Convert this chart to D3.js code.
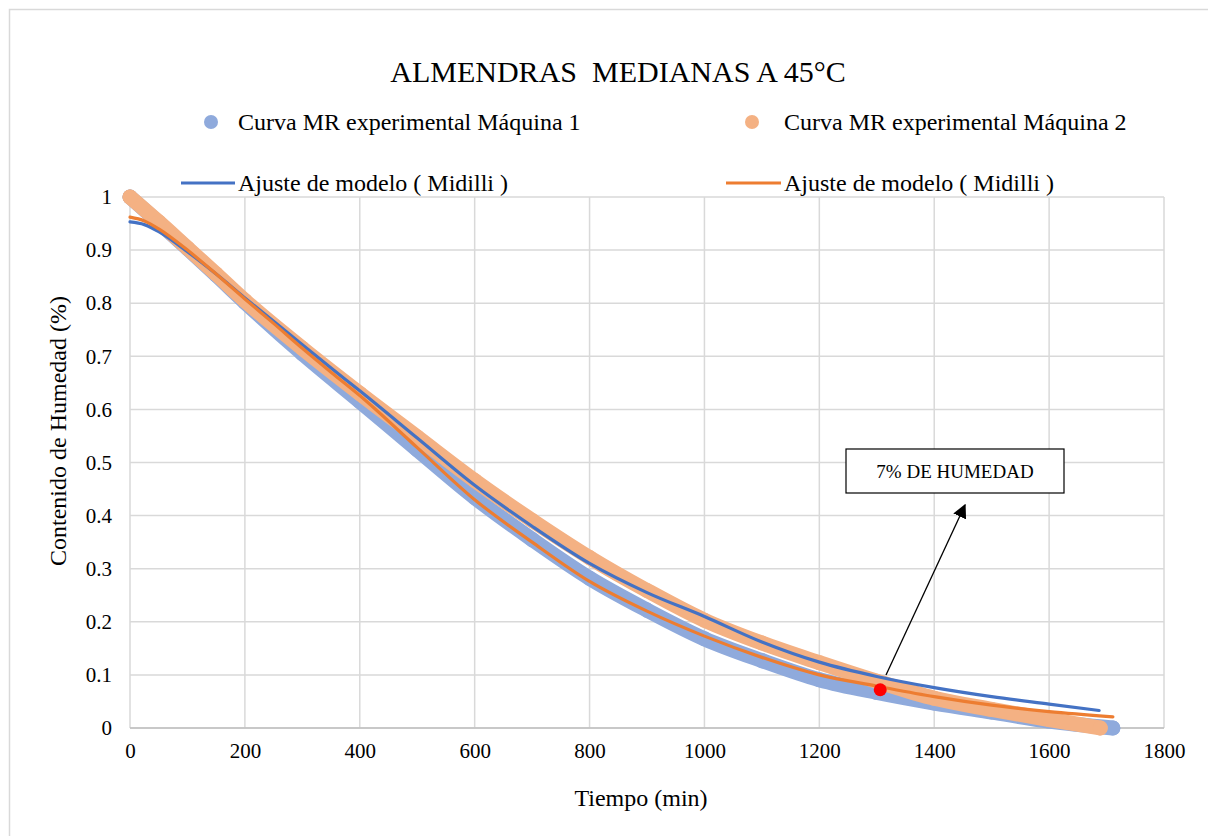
<!DOCTYPE html>
<html><head><meta charset="utf-8">
<script src="https://cdn.jsdelivr.net/npm/d3@7"></script>
<style>
html,body{margin:0;padding:0;background:#fff;}
svg text{fill:#000;}
</style></head>
<body>
<svg id="chart" width="1208" height="836"></svg>
<script>
// ---- data ----
const title = "ALMENDRAS  MEDIANAS A 45°C";
const xTicks = [0,200,400,600,800,1000,1200,1400,1600,1800];
const yTicks = [0,0.1,0.2,0.3,0.4,0.5,0.6,0.7,0.8,0.9,1];
const seriesNames = ["Curva MR experimental Máquina 1","Curva MR experimental Máquina 2","Ajuste de modelo ( Midilli )","Ajuste de modelo ( Midilli )"];

const exp1Time = [0,50,100,150,200,300,400,500,600,700,800,900,1000,1100,1200,1300,1400,1500,1600,1711];
const exp1MR   = [1.0,0.952,0.903,0.853,0.802,0.705,0.615,0.524,0.434,0.355,0.282,0.222,0.168,0.127,0.091,0.067,0.047,0.030,0.013,0.0];

const exp2Time = [0,50,100,150,200,300,400,500,600,700,800,900,1000,1100,1200,1300,1400,1500,1600,1689];
const exp2MR   = [1.0,0.953,0.904,0.855,0.805,0.715,0.630,0.548,0.466,0.391,0.321,0.259,0.203,0.160,0.123,0.088,0.056,0.035,0.016,0.0];

const fit1Time = [0,25,50,100,150,200,250,300,350,400,500,600,700,800,900,1000,1100,1200,1300,1400,1500,1600,1687];
const fit1MR   = [0.953,0.948,0.935,0.897,0.855,0.810,0.766,0.722,0.678,0.635,0.546,0.457,0.380,0.310,0.255,0.210,0.162,0.124,0.097,0.076,0.059,0.045,0.033];

const fit2Time = [0,25,50,100,150,200,250,300,350,400,500,600,700,800,900,1000,1100,1200,1300,1400,1500,1600,1711];
const fit2MR   = [0.962,0.955,0.940,0.900,0.855,0.808,0.762,0.715,0.670,0.626,0.528,0.430,0.350,0.276,0.220,0.173,0.133,0.100,0.079,0.059,0.043,0.031,0.021];

const markTime = [1306];
const markMR = [0.072];
const annotationText = "7% DE HUMEDAD";

// ---- styles ----
const FONT = "'Liberation Serif', Tinos, 'Times New Roman', 'Nimbus Roman', 'Nimbus Roman No9 L', FreeSerif, 'Noto Serif', 'DejaVu Serif', Times, serif";
const C = {exp1:"#8FAADC", exp2:"#F4B183", fit1:"#4472C4", fit2:"#ED7D31", grid:"#D9D9D9"};

const svg = d3.select("#chart");
svg.append("rect").attr("x",9.5).attr("y",9.5).attr("width",1220).attr("height",850)
  .attr("fill","#fff").attr("stroke","#D9D9D9").attr("stroke-width",1.5);

const x = d3.scaleLinear().domain([0,1800]).range([130,1164]);
const y = d3.scaleLinear().domain([0,1]).range([728,197]);

const g = svg.append("g");
g.selectAll("line.h").data(yTicks).join("line")
  .attr("x1",x(0)).attr("x2",x(1800)).attr("y1",d=>y(d)).attr("y2",d=>y(d))
  .attr("stroke",C.grid).attr("stroke-width",1.5);
g.selectAll("line.v").data(xTicks).join("line")
  .attr("x1",d=>x(d)).attr("x2",d=>x(d)).attr("y1",y(0)).attr("y2",y(1))
  .attr("stroke",C.grid).attr("stroke-width",1.5);
svg.append("line").attr("x1",x(0)).attr("x2",x(1800)).attr("y1",y(0)).attr("y2",y(0))
  .attr("stroke","#BFBFBF").attr("stroke-width",1.5);

const xAxis = svg.append("g").attr("transform",`translate(0,${y(0)})`)
  .call(d3.axisBottom(x).tickValues(xTicks).tickSize(0).tickPadding(14).tickFormat(d3.format("d")));
xAxis.attr("font-family",FONT).attr("font-size",21);
xAxis.select(".domain").remove();
xAxis.selectAll("text").attr("dy","0.75em");

const yAxis = svg.append("g").attr("transform",`translate(${x(0)},0)`)
  .call(d3.axisLeft(y).tickValues(yTicks).tickSize(0).tickPadding(18).tickFormat(d=>String(+d.toFixed(1))));
yAxis.attr("font-family",FONT).attr("font-size",21);
yAxis.select(".domain").remove();

function expSeries(times, vals, color){
  const pts = times.map((t,i)=>[t,vals[i]]);
  const line = d3.line().x(d=>x(d[0])).y(d=>y(d[1])).curve(d3.curveMonotoneX);
  svg.append("path").attr("d",line(pts)).attr("fill","none").attr("stroke",color)
    .attr("stroke-width",15).attr("stroke-linecap","round").attr("stroke-linejoin","round");
  svg.append("g").selectAll("circle").data(pts).join("circle")
    .attr("cx",d=>x(d[0])).attr("cy",d=>y(d[1])).attr("r",7.5).attr("fill",color);
}
expSeries(exp1Time, exp1MR, C.exp1);
expSeries(exp2Time, exp2MR, C.exp2);

function fitSeries(times, vals, color){
  const pts = times.map((t,i)=>[t,vals[i]]);
  const line = d3.line().x(d=>x(d[0])).y(d=>y(d[1])).curve(d3.curveMonotoneX);
  svg.append("path").attr("d",line(pts)).attr("fill","none").attr("stroke",color)
    .attr("stroke-width",3.2).attr("stroke-linecap","round");
}
fitSeries(fit1Time, fit1MR, C.fit1);
fitSeries(fit2Time, fit2MR, C.fit2);

svg.append("g").selectAll("circle").data(markTime).join("circle")
  .attr("cx",d=>x(d)).attr("cy",(d,i)=>y(markMR[i])).attr("r",6.5).attr("fill","#FF0000");

const defs = svg.append("defs");
defs.append("marker").attr("id","arr").attr("viewBox","0 0 10 10").attr("refX",9).attr("refY",5)
  .attr("markerWidth",14).attr("markerHeight",14).attr("markerUnits","userSpaceOnUse").attr("orient","auto")
  .append("path").attr("d","M0,0 L10,5 L0,10 Z").attr("fill","#000");
svg.append("line").attr("x1",886).attr("y1",675).attr("x2",965).attr("y2",505)
  .attr("stroke","#000").attr("stroke-width",1.3).attr("marker-end","url(#arr)");
svg.append("rect").attr("x",846).attr("y",449).attr("width",218).attr("height",44)
  .attr("fill","#fff").attr("stroke","#000").attr("stroke-width",1.2);

function txt(xp, yp, s, size, anchor){
  return svg.append("text").attr("x",xp).attr("y",yp).attr("text-anchor",anchor||"start")
    .attr("font-family",FONT).attr("font-size",size).text(s);
}
txt(955, 478, annotationText, 19, "middle");
txt(618, 82, title, 30, "middle").style("white-space","pre").attr("xml:space","preserve");

svg.append("circle").attr("cx",211).attr("cy",122).attr("r",7).attr("fill",C.exp1);
txt(238, 130, seriesNames[0], 24);
svg.append("circle").attr("cx",752).attr("cy",122).attr("r",7).attr("fill",C.exp2);
txt(784, 130, seriesNames[1], 24);
svg.append("line").attr("x1",181).attr("x2",235).attr("y1",183).attr("y2",183).attr("stroke",C.fit1).attr("stroke-width",3.2);
txt(238, 191, seriesNames[2], 24);
svg.append("line").attr("x1",726).attr("x2",781).attr("y1",183).attr("y2",183).attr("stroke",C.fit2).attr("stroke-width",3.2);
txt(784, 191, seriesNames[3], 24);

txt(641, 806, "Tiempo (min)", 24, "middle");
svg.append("text").attr("transform","translate(66,431) rotate(-90)").attr("text-anchor","middle")
  .attr("font-family",FONT).attr("font-size",24).text("Contenido de Humedad (%)");
</script>
</body></html>
